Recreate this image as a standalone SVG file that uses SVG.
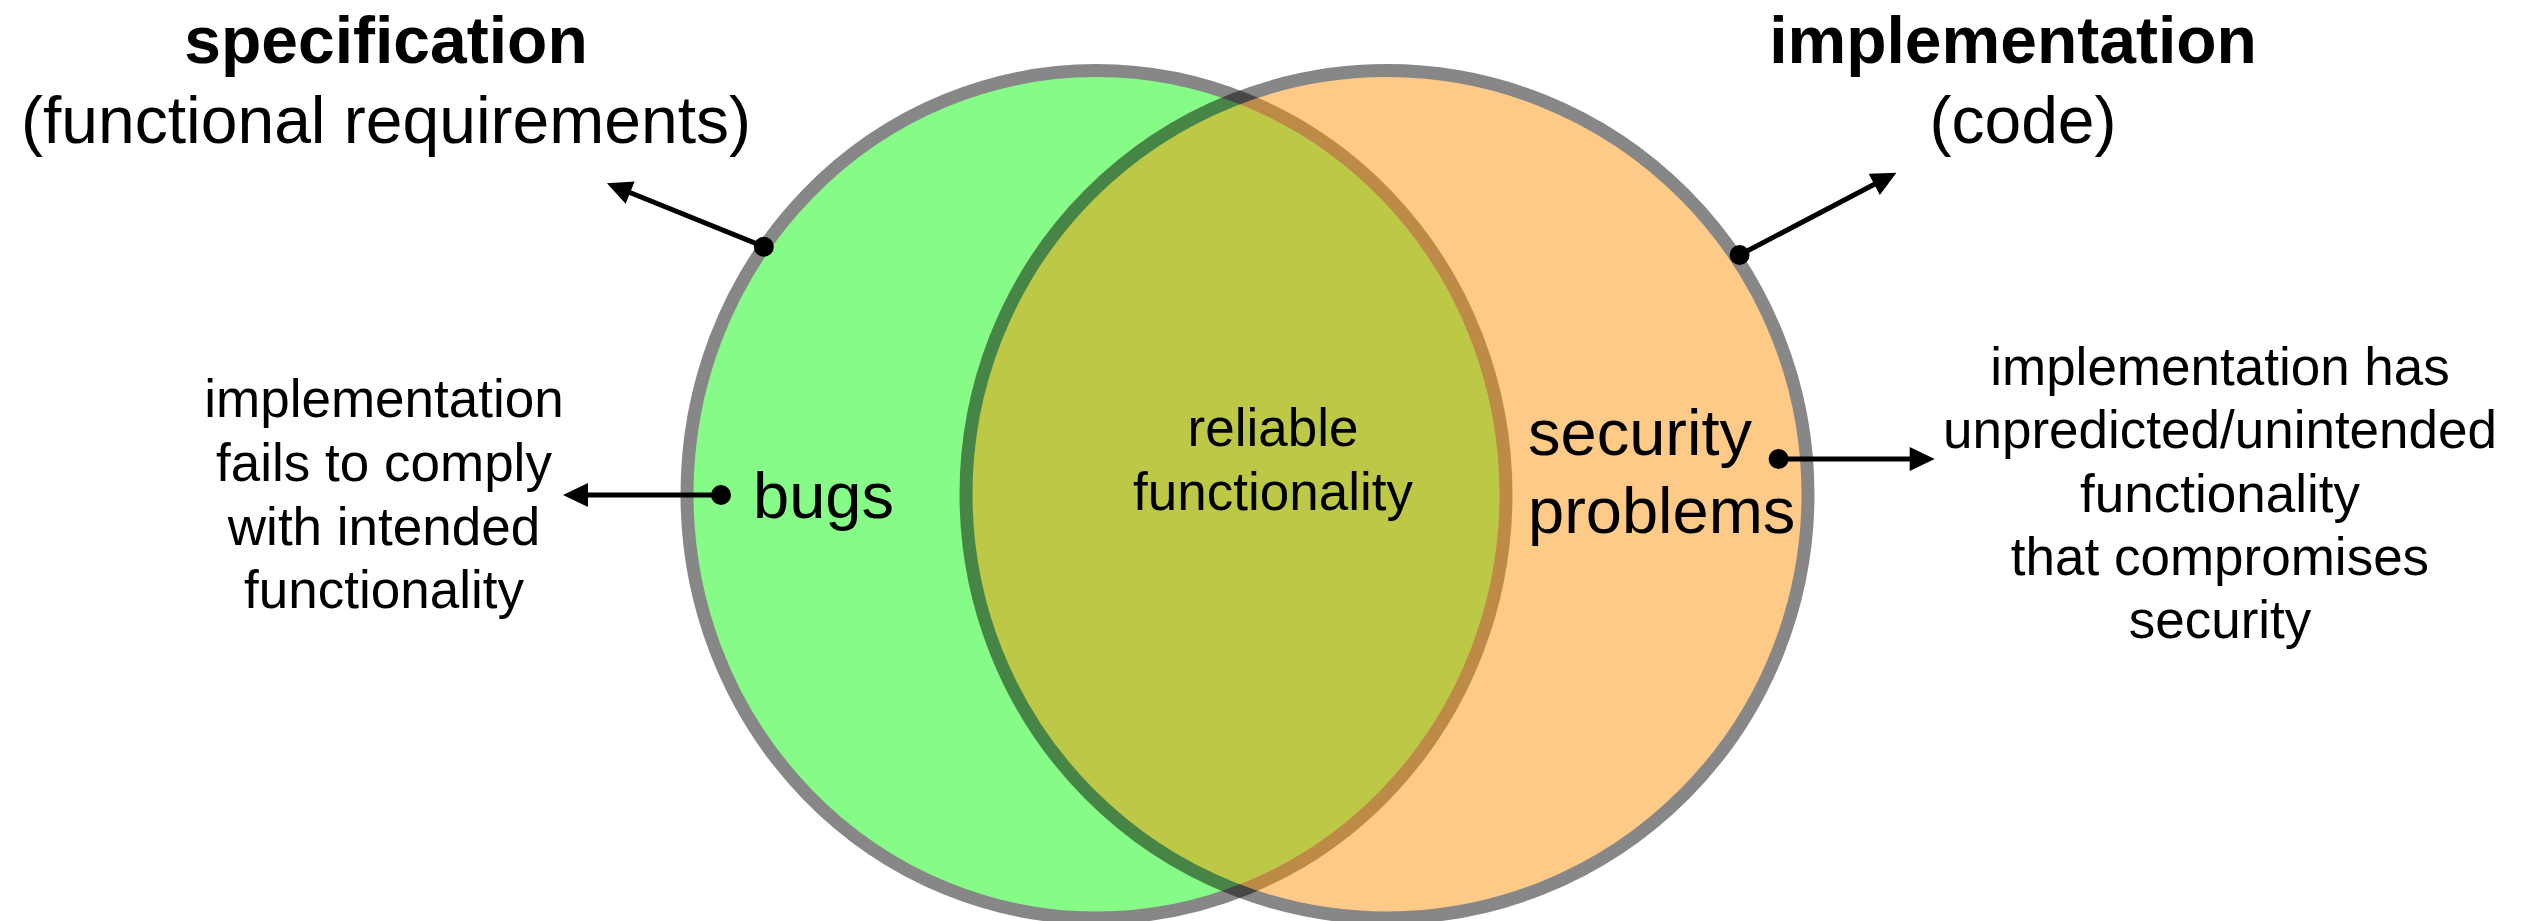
<svg xmlns="http://www.w3.org/2000/svg" width="2528" height="921" viewBox="0 0 2528 921">
<style>
text { font-family: "Liberation Sans", Arial, Helvetica, sans-serif; fill: #000; }
.title { font-size: 66px; font-weight: bold; text-anchor: middle; }
.sub { font-size: 66px; text-anchor: middle; }
.note { font-size: 53px; text-anchor: middle; }
.big { font-size: 65px; }
.set { opacity: 0.467; stroke: #000; stroke-width: 13; }
.conn { stroke: #000; stroke-width: 5; fill: none; marker-end: url(#arrow); }
.dot { fill: #000; }
</style>
<defs>
<marker id="arrow" markerUnits="userSpaceOnUse" orient="auto" refX="0" refY="0" markerWidth="30" markerHeight="30" overflow="visible">
<path d="M20,0 L-5,-12 L-5,12 Z" fill="#000"/>
</marker>
</defs>
<rect width="2528" height="921" fill="#fff"/>
<g id="specification-set">
<ellipse class="set" cx="1096.5" cy="494.3" rx="409.5" ry="423.7" fill="#00F800"/>
</g>
<g id="implementation-set">
<ellipse class="set" cx="1387" cy="494.3" rx="421" ry="423.7" fill="#FD8F00"/>
</g>
<g id="connectors">
<line class="conn" x1="763.8" y1="246.7" x2="625.5" y2="190.8"/>
<circle class="dot" cx="763.8" cy="246.7" r="10"/>
<line class="conn" x1="1739.6" y1="255" x2="1878.7" y2="182"/>
<circle class="dot" cx="1739.6" cy="255" r="10"/>
<line class="conn" x1="721" y1="495" x2="583" y2="495"/>
<circle class="dot" cx="721" cy="495" r="10"/>
<line class="conn" x1="1778.6" y1="459" x2="1914.7" y2="459"/>
<circle class="dot" cx="1778.6" cy="459" r="10"/>
</g>
<g id="spec-label">
<text class="title" x="386" y="63">specification</text>
<text class="sub" x="386" y="143">(functional requirements)</text>
</g>
<g id="impl-label">
<text class="title" x="2013" y="63">implementation</text>
<text class="sub" x="2023" y="143">(code)</text>
</g>
<g id="bugs-note">
<text class="note" x="384" y="417">implementation</text>
<text class="note" x="384" y="481">fails to comply</text>
<text class="note" x="384" y="545">with intended</text>
<text class="note" x="384" y="608">functionality</text>
</g>
<g id="bugs">
<text class="big" x="753" y="518">bugs</text>
</g>
<g id="reliable">
<text class="note" x="1273" y="446">reliable</text>
<text class="note" x="1273" y="510">functionality</text>
</g>
<g id="security-problems">
<text class="big" x="1528" y="455">security</text>
<text class="big" x="1528" y="533">problems</text>
</g>
<g id="security-note">
<text class="note" x="2220" y="385">implementation has</text>
<text class="note" x="2220" y="448">unpredicted/unintended</text>
<text class="note" x="2220" y="512">functionality</text>
<text class="note" x="2220" y="575">that compromises</text>
<text class="note" x="2220" y="638">security</text>
</g>
</svg>
